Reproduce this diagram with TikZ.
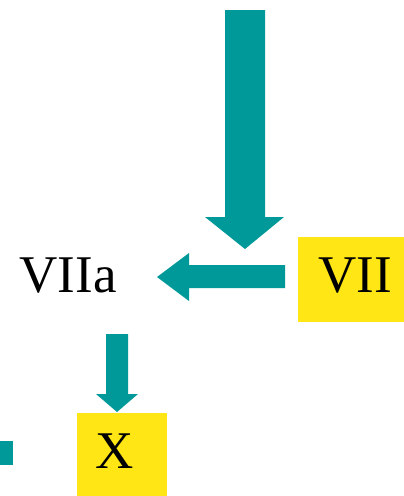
\documentclass[tikz,border=0pt]{standalone}
\usepackage{fontspec}
\setmainfont{Liberation Serif}
\definecolor{teal}{RGB}{0,153,153}
\definecolor{sun}{RGB}{255,230,20}
\begin{document}
\begin{tikzpicture}[x=1pt,y=-1pt,
  blockarrow/.style={fill=teal,draw=none},
  tag/.style={fill=sun,draw=none},
  label/.style={font=\fontsize{53}{53}\selectfont,inner sep=0pt,anchor=base}]
\useasboundingbox (0,0) rectangle (404,496);
% highlighted boxes
\fill[tag] (298,237) rectangle (404,322);
\fill[tag] (77,413) rectangle (167,496);
% long downward arrow
\fill[blockarrow] (225,10) -- (265,10) -- (265,217) -- (284,217) -- (245,249)
  -- (205,217) -- (225,217) -- cycle;
% leftward arrow from VII to VIIa
\fill[blockarrow] (285,265) -- (189,265) -- (189,253) -- (157,277) -- (189,301)
  -- (189,288) -- (285,288) -- cycle;
% short downward arrow onto X
\fill[blockarrow] (106,334) -- (128,334) -- (128,394) -- (138,394) -- (117,412)
  -- (96,394) -- (106,394) -- cycle;
% small square at the left edge
\fill[blockarrow] (0,441) rectangle (13,465);
% labels
\node[label] (viia) at (68,292) {VIIa};
\node[label] (vii) at (355,292) {VII};
\node[label] (x) at (115,468) {X};
\end{tikzpicture}
\end{document}
